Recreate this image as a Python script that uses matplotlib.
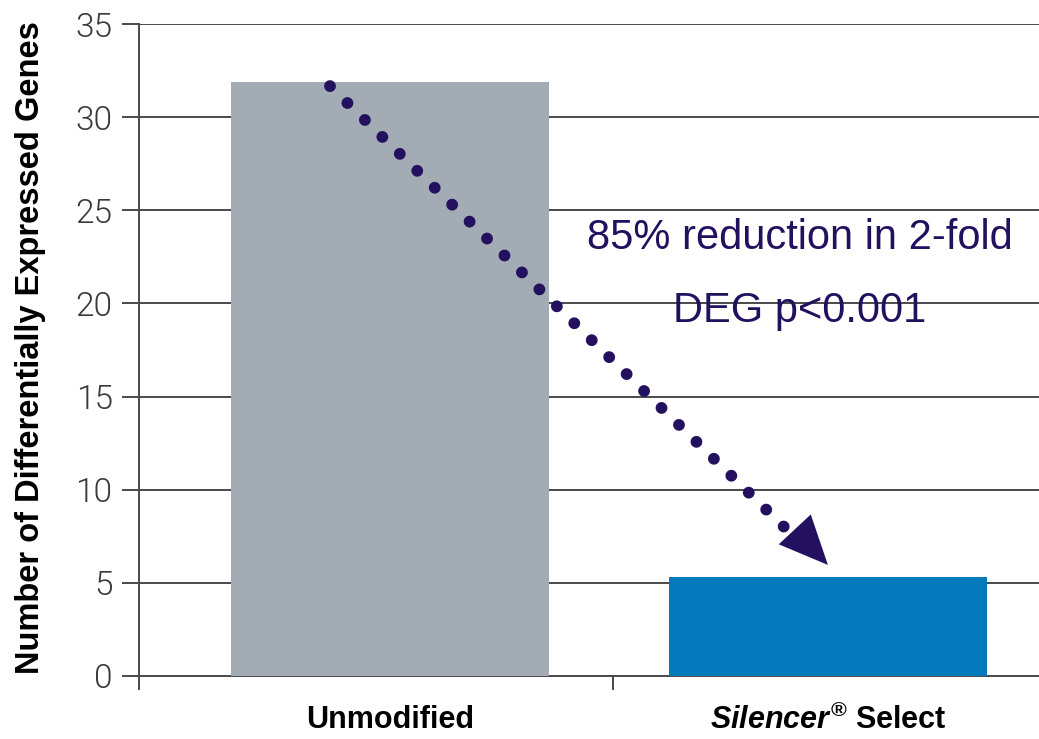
import matplotlib
matplotlib.use('Agg')
import matplotlib.pyplot as plt

# gene counts per siRNA type
categories = ['Unmodified', 'Silencer Select']
deg_counts = [31.9, 5.3]
bar_colors = ['#a3acb4', '#0679bd']
y_ticks = [0, 5, 10, 15, 20, 25, 30, 35]
note_lines = ['85% reduction in 2-fold', 'DEG p<0.001']

navy = '#23105f'
plt.rcParams['mathtext.fontset'] = 'custom'
plt.rcParams['mathtext.rm'] = 'Liberation Sans:bold'
plt.rcParams['mathtext.it'] = 'Liberation Sans:italic:bold'

fig = plt.figure(figsize=(10.39, 7.39), dpi=100)
ax = fig.add_axes([0.1338, 0.0853, 0.8662, 0.8822])

x = list(range(len(categories)))
ax.bar(x, deg_counts, width=0.726, color=bar_colors, zorder=3)

ax.set_xlim(-0.573, 1.482)
ax.set_ylim(0, 35)
ax.set_yticks(y_ticks)
ax.set_yticklabels([str(t) for t in y_ticks], fontsize=24, color='#3a3a3a',
                   family='Roboto', fontweight=300)
ax.tick_params(axis='y', direction='out', length=12, width=1.4,
               color='#4a4a4a', pad=7)
ax.yaxis.grid(True, color='#4a4a4a', linewidth=1.4, zorder=1)
ax.set_axisbelow(True)

ax.set_xticks(x)
ax.set_xticklabels(['Unmodified', r'$\mathit{Silencer}^{\mathrm{®}}$ Select'],
                   fontsize=22, fontweight='bold', family='Liberation Sans')
ax.tick_params(axis='x', length=0, pad=21)
ax.set_xticks([-0.573, 0.509], minor=True)
ax.tick_params(axis='x', which='minor', direction='out', length=10,
               width=1.4, color='#4a4a4a')

for side in ['top', 'right']:
    ax.spines[side].set_visible(False)
for side in ['left', 'bottom']:
    ax.spines[side].set_color('#4a4a4a')
    ax.spines[side].set_linewidth(1.4)

fig.text(0.029, 0.530, 'Number of Differentially Expressed Genes',
         rotation=90, ha='center', va='center', fontsize=23.5,
         fontweight='bold', family='Liberation Sans')

# dotted trend arrow from the unmodified bar down to Silencer Select
ax.plot([-0.137, 0.935], [31.67, 7.2], color=navy, linewidth=8.5,
        linestyle=(0, (0.01, 2.05)), dash_capstyle='round', zorder=4)
ax.annotate('', xy=(1.0, 5.96), xytext=(0.935, 7.6),
            arrowprops=dict(arrowstyle='-|>,head_length=1.0,head_width=0.45',
                            color=navy, mutation_scale=35, linewidth=0,
                            shrinkA=0, shrinkB=0), zorder=5)

ax.text(0.935, 23.5, note_lines[0], ha='center', va='center', fontsize=30,
        color=navy, family='Liberation Sans')
ax.text(0.935, 19.6, note_lines[1], ha='center', va='center', fontsize=30,
        color=navy, family='Liberation Sans')

fig.savefig('out.png', dpi=100)
